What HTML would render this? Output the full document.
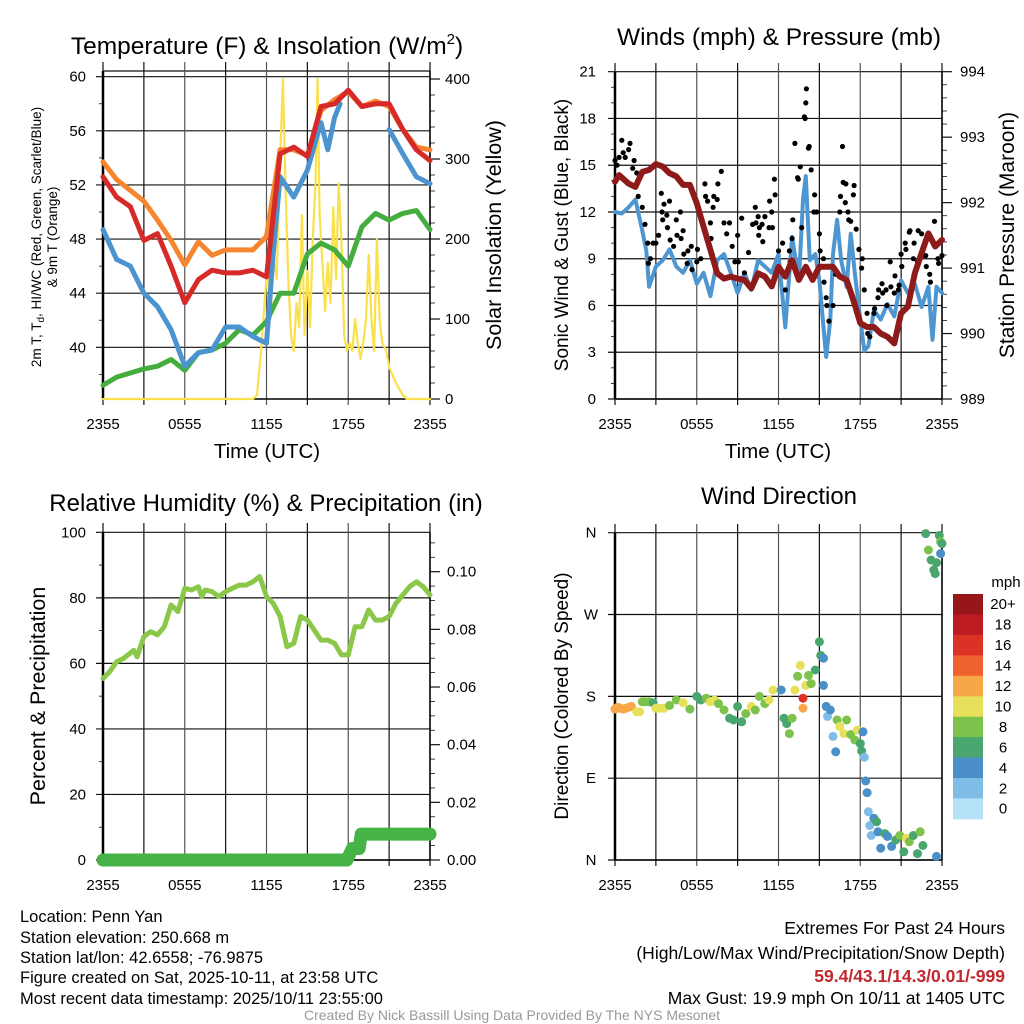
<!DOCTYPE html>
<html><head><meta charset="utf-8"><title>Penn Yan Meteogram</title>
<style>
html,body{margin:0;padding:0;background:#fff;}
svg{display:block;font-family:"Liberation Sans",Arial,sans-serif;}
</style></head>
<body>
<svg id="fig" width="1024" height="1024" viewBox="0 0 1024 1024" xmlns="http://www.w3.org/2000/svg">
<rect width="1024" height="1024" fill="#fff"/>
<g id="p1"></g>
<g id="p2"></g>
<g id="p3"></g>
<g id="p4"></g>

<text x="267" y="54" font-size="24.5" text-anchor="middle">Temperature (F) &amp; Insolation (W/m<tspan dy="-10" font-size="15">2</tspan><tspan dy="10">)</tspan></text>
<text x="779" y="45" font-size="24.5" text-anchor="middle">Winds (mph) &amp; Pressure (mb)</text>
<text x="266" y="511" font-size="24" text-anchor="middle">Relative Humidity (%) &amp; Precipitation (in)</text>
<text x="779" y="504" font-size="24" text-anchor="middle">Wind Direction</text>

<g font-size="16.5">
<text x="20" y="922">Location: Penn Yan</text>
<text x="20" y="943">Station elevation: 250.668 m</text>
<text x="20" y="963">Station lat/lon: 42.6558; -76.9875</text>
<text x="20" y="983">Figure created on Sat, 2025-10-11, at 23:58 UTC</text>
<text x="20" y="1004">Most recent data timestamp: 2025/10/11 23:55:00</text>
</g>
<g font-size="17.5" text-anchor="end">
<text x="1005" y="934">Extremes For Past 24 Hours</text>
<text x="1005" y="959">(High/Low/Max Wind/Precipitation/Snow Depth)</text>
<text x="1005" y="982" fill="#c1272d" font-weight="bold">59.4/43.1/14.3/0.01/-999</text>
<text x="1005" y="1004">Max Gust: 19.9 mph On 10/11 at 1405 UTC</text>
</g>
<text x="512" y="1020" font-size="14" fill="#999" text-anchor="middle">Created By Nick Bassill Using Data Provided By The NYS Mesonet</text>
</svg>

<script>
// ---------- data ----------
const xTickLabels = ["2355","0555","1155","1755","2355"];
const hours = [0,1,2,3,4,5,6,7,8,9,10,11,12,13,14,15,16,17,18,19,20,21,22,23,24];
const temp9m = [53.7,52.4,51.6,50.8,49.4,47.9,46.1,47.8,46.8,47.2,47.2,47.2,48.2,54.6,54.6,54.2,57.5,58.3,58.9,57.8,58.2,57.8,56.1,54.8,54.6];
const temp2m = [52.6,51.1,50.4,47.9,48.4,46.0,43.3,45.0,45.7,45.5,45.5,45.7,45.2,54.3,54.8,54.1,57.8,58.0,59.0,57.8,58.0,58.0,56.1,54.6,53.8];
const dewpoint = [37.2,37.8,38.1,38.4,38.6,39.1,38.3,39.6,39.8,40.3,41.3,40.9,41.9,44.0,44.0,46.9,47.7,47.2,46.0,48.9,49.9,49.4,49.9,50.1,48.7];
const hiwcTimes = [0,1,2,3,4,5,6,7,8,9,10,11,12,12.5,13,14,15,16,16.5,17,17.4,null,21,22,23,24];
const hiwc = [48.7,46.5,46.0,44.0,43.0,41.3,38.6,39.6,39.8,41.5,41.5,40.8,40.3,47,52.6,51.1,53.1,56.6,54.6,57.0,58.0,null,56.1,54.3,52.6,52.1];
const solarTimes = [0,11,11.3,11.6,11.9,12.1,12.3,12.5,12.75,13,13.2,13.4,13.6,13.8,14,14.2,14.4,14.6,14.8,15,15.2,15.4,15.6,15.75,15.9,16.1,16.3,16.5,16.7,16.9,17.1,17.3,17.5,17.7,17.9,18.1,18.3,18.5,18.7,18.9,19.1,19.3,19.5,19.7,19.9,20.1,20.3,20.5,20.8,21,21.5,22,22.3,24];
const solar = [0,0,5,60,130,170,100,180,150,300,400,260,150,80,60,120,90,230,80,160,90,200,270,400,230,170,110,170,120,240,150,270,200,80,60,70,60,100,70,50,70,100,180,100,60,200,100,70,60,40,20,5,0,0];

const windTimes = [0,0.5,1,1.5,2,2.3,2.5,3,3.5,4,4.5,5,5.5,6,6.5,7,7.5,8,8.5,9,9.5,10,10.5,11,11.5,12,12.5,13,13.5,13.8,14,14.3,14.7,15,15.3,15.5,15.8,16,16.3,16.6,17,17.3,17.6,18,18.3,18.6,19,19.5,20,20.5,21,21.5,22,22.5,23,23.3,23.6,24];
const windSpeed = [12.0,11.9,12.3,12.8,10.8,9.5,7.2,8.5,8.9,9.6,8.5,8.1,8.9,7.4,8.1,6.6,8.9,9.3,8.1,6.8,8.1,7.0,8.9,8.5,8.1,9.3,4.6,10.4,7.6,12.8,14.3,8.9,9.3,7.6,4.6,2.7,5.1,9.3,11.5,8.9,7.2,10.6,8.1,5.1,3.1,3.4,5.7,5.1,6.1,5.3,7.6,6.8,7.4,5.9,7.2,3.8,7.2,6.8];
const pressTimes = [0,0.3,1,1.5,2,2.5,3,3.5,4,4.5,5,5.5,6,6.5,7,7.5,8,8.5,9,9.5,10,10.5,11,11.5,12,12.5,13,13.5,14,14.5,15,15.5,16,16.5,17,17.5,18,18.5,19,19.5,20,20.5,21,21.5,22,22.5,23,23.5,24];
const pressure = [992.32,992.42,992.29,992.24,992.47,992.5,992.59,992.55,992.45,992.40,992.27,992.27,991.99,991.63,991.28,990.92,990.84,990.87,990.84,990.82,990.69,990.92,990.87,990.72,991.02,990.87,991.12,990.82,991.02,990.82,991.02,991.02,991.02,990.87,990.82,990.51,990.16,990.1,990.1,990.0,989.95,989.85,990.31,990.41,990.92,991.23,991.53,991.33,991.43];
const gustTimes = [0,0.15,0.3,0.5,0.6,0.75,1,1.1,1.3,1.4,1.6,1.7,2,2.2,2.4,2.45,2.6,2.8,3,3.2,3.4,3.45,3.5,3.6,3.8,3.85,4,4.05,4.3,4.5,4.55,4.8,4.85,5,5.05,5.3,5.35,5.6,5.65,6,6.05,6.3,6.6,6.65,6.8,7,7.05,7.2,7.25,7.5,7.55,7.8,8,8.2,8.4,8.6,8.8,9,9.05,9.3,9.5,9.8,10.1,10.3,10.35,10.5,10.55,10.6,10.8,10.85,11,11.3,11.35,11.5,11.55,11.7,11.75,12,12.05,12.3,12.5,12.8,12.85,13,13.05,13.2,13.4,13.45,13.6,13.7,13.9,13.95,14,14.05,14.2,14.25,14.4,14.6,14.65,14.8,15,15.05,15.3,15.35,15.5,15.55,15.7,16,16.2,16.5,16.55,16.7,16.75,16.9,16.95,17.1,17.15,17.3,17.5,17.55,17.7,17.9,18.1,18.15,18.3,18.5,18.55,18.7,19,19.05,19.3,19.35,19.6,19.65,19.9,19.95,20.2,20.25,20.5,20.55,20.8,20.85,21,21.05,21.3,21.35,21.6,21.65,21.9,21.95,22.2,22.25,22.5,22.55,22.8,22.85,23.1,23.15,23.4,23.45,23.7,23.75,24];
const gustSpeed = [15.3,15.0,15.5,16.6,15.8,15.5,16.0,16.4,14.8,15.3,14.5,13.0,12.3,11.2,10.0,8.7,9.0,10.0,10.0,10.5,13.2,12.0,11.5,12.5,11.8,11.0,12.7,10.2,9.8,11.5,10.5,12.0,10.3,10.8,9.3,8.7,9.5,9.8,8.3,8.8,9.6,9.0,13.8,13.0,12.7,11.3,10.3,12.3,13.0,12.8,13.8,14.6,11.3,10.6,11.3,9.8,8.8,10.5,8.8,11.6,8.1,9.4,11.2,12.3,11.3,11.7,10.5,11.0,11.2,10.1,11.7,11.0,12.7,12.0,11.0,14.1,13.1,9.5,8.2,10.0,7.0,9.5,8.8,10.3,11.5,16.4,14.2,14.1,14.9,11.0,18.1,18.0,19.0,19.9,16.1,16.2,14.7,12.0,13.1,12.0,10.6,9.5,9.0,7.5,6.5,6.0,5.0,6.0,8.0,12.0,13.0,16.2,13.9,12.6,13.8,12.0,11.5,11.4,13.1,13.7,10.9,9.6,8.4,9.0,7.0,5.5,4.2,4.0,5.5,5.8,6.5,7.0,7.4,6.8,7.0,6.0,8.8,7.2,6.8,7.9,7.0,7.3,9.3,8.5,10.0,9.6,10.7,10.8,9.0,10.0,8.8,10.8,10.6,9.2,9.2,8.5,8.0,7.5,10.0,11.4,9.0,8.7,9.2];

const rhTimes = [0,0.5,1,1.5,2.25,2.5,3,3.5,4,4.5,5,5.5,6,6.5,7,7.25,7.5,8,8.5,9,9.5,10,10.5,11,11.5,12,12.5,13,13.5,14,14.5,15,15.5,16,16.5,17,17.5,18,18.5,19,19.5,20,20.5,21,21.5,22,22.5,23,23.5,24];
const relHumidity = [55.4,57.5,60.5,61.5,64,62,68.2,69.7,68.7,71.2,77.8,75.8,82.9,82.4,83.4,80.4,82.4,81.9,80.4,81.9,82.9,83.9,83.9,84.9,86.5,80.4,78.3,74.3,65.1,66.1,74.3,73.2,70.2,67.1,67.1,66.1,62.6,62.6,71.2,71.2,76.3,73.2,73.2,74.3,78.3,80.9,83.4,84.9,83.4,80.9];
const precipTimes = [0,17.9,18.1,18.3,18.8,18.95,24];
const precip = [0,0,0.002,0.004,0.004,0.009,0.009];

const dirTimes = [0,0.2,0.4,0.6,0.8,1.0,1.2,1.6,1.8,2,2.2,2.5,2.8,3,3.3,3.6,4,4.5,5,5.5,6,6.3,6.7,7,7.3,7.6,8,8.4,8.7,9,9.3,9.6,10,10.3,10.6,11,11.3,11.6,12.2,12.4,12.6,12.8,13.0,13.2,13.4,13.6,13.8,13.8,14.0,14.2,14.4,14.7,15.0,15.1,15.3,15.3,15.5,15.6,15.8,16,16.2,16.3,16.5,16.8,17.0,17.3,17.6,17.8,18.0,18.1,18.2,18.3,18.4,18.5,18.6,18.7,18.8,19.0,19.2,19.3,19.5,19.8,20,20.3,20.6,20.9,21.2,21.4,21.6,21.9,22.2,22.4,22.6,22.8,23.0,23.2,23.4,23.5,23.6,23.8,23.9,23.9,24,23.6];
const dirDegrees = [166,168,167,166,167,168,169,163,163,174,174,174,173,167,167,167,170,176,173,166,180,176,178,174,176,172,165,156,154,169,152,161,169,165,180,172,176,187,187,156,150,139,156,187,202,214,178,167,192,203,194,209,240,225,222,192,169,158,165,136,119,154,147,139,154,138,132,143,128,120,141,113,87,74,53,38,27,46,42,31,13,29,26,15,22,27,9,24,20,27,7,31,16,359,341,330,319,315,327,357,350,337,348,4];
const dirSpeed = [12,12,12,12,12,12,12,10,10,8,8,8,6,10,10,10,8,8,10,8,6,6,8,10,10,8,8,6,6,6,6,8,10,8,8,8,10,10,4,6,6,8,8,10,8,10,16,12,10,8,8,6,6,6,4,4,4,2,4,2,4,8,10,10,8,8,8,10,6,6,4,2,4,4,2,2,2,4,6,4,4,6,4,4,6,8,6,10,8,6,6,8,6,6,8,6,6,6,6,6,8,4,6,4];
const speedColors = ["#b5e2f8","#80bde6","#4a8fc7","#4aa66f","#7dc24b","#e6e05a","#f7a748","#ef6230","#dc3127","#bd1c22","#961619"];
const speedLabels = ["0","2","4","6","8","10","12","14","16","18","20+"];

// ---------- helpers ----------
const NS = "http://www.w3.org/2000/svg";
function mk(parent, tag, attrs, text){
  const e = document.createElementNS(NS, tag);
  for (const k in attrs) e.setAttribute(k, attrs[k]);
  if (text !== undefined) e.textContent = text;
  parent.appendChild(e);
  return e;
}
function lin(d0,d1,r0,r1){ return v => r0 + (v-d0)*(r1-r0)/(d1-d0); }
function pathFrom(ts, vs, sx, sy){
  let d = "", pen = false;
  for (let i=0;i<ts.length;i++){
    if (ts[i]===null || vs[i]===null){ pen=false; continue; }
    d += (pen?"L":"M") + sx(ts[i]).toFixed(1) + " " + sy(vs[i]).toFixed(1);
    pen = true;
  }
  return d;
}
function drawLine(g, ts, vs, sx, sy, color, w, name){
  const p = mk(g,"path",{d:pathFrom(ts,vs,sx,sy),fill:"none",stroke:color,"stroke-width":w,"stroke-linejoin":"round","stroke-linecap":"round"});
  
  
  return p;
}
function frame(g, L, R, T, B){
  const sx = lin(0,24,L,R);
  for (let h=0; h<=24; h+=3){
    const x = sx(h);
    const l = mk(g,"line",{x1:x,x2:x,y1:T-9,y2:B+6,stroke:(h%6===0&&h>0&&h<24)?"#555":"#111","stroke-width":1.2});
    
    
  }
  xTickLabels.forEach((lab,i)=>{
    const t = mk(g,"text",{x:sx(i*6),y:B+30,"font-size":15,"text-anchor":"middle"},lab);
    
    
  });
  const ax = mk(g,"line",{x1:L,x2:L,y1:T,y2:B,stroke:"#000","stroke-width":2.5});
  
  
  const ax2 = mk(g,"line",{x1:R,x2:R,y1:T,y2:B,stroke:"#000","stroke-width":1.5});
  
  
  const bt = mk(g,"line",{x1:L,x2:R,y1:B,y2:B,stroke:"#000","stroke-width":1.5});
  
  
  return sx;
}
function hgrid(g, L, R, y, major){
  const l = mk(g,"line",{x1:major?L-7:L-4,x2:major?R:L,y1:y,y2:y,stroke:"#111","stroke-width":major?1.2:0.8});
  
  
}
function rtick(g, R, y, major){
  const l = mk(g,"line",{x1:R,x2:R+(major?10:5),y1:y,y2:y,stroke:"#111","stroke-width":major?1.2:0.8});
  
  
}
function label(g, x, y, txt, anchor, size, name, rot){
  const t = mk(g,"text",{x:x,y:y,"font-size":size,"text-anchor":anchor},txt);
  if (rot) t.setAttribute("transform","rotate(-90 "+x+" "+y+")");
  
  
  return t;
}

// ---------- panel 1: temperature ----------
(function(){
  const g = document.getElementById("p1");
  const L=103,R=430,T=71,B=399;
  const sy = lin(40,60,347.3,76.7);
  const sr = lin(0,400,399,79);
  for (let v=38; v<=60; v+=2){ hgrid(g,L,R,sy(v), v%4===0); }
  mk(g,"line",{x1:L,x2:R,y1:T,y2:T,stroke:"#111","stroke-width":1.2});
  for (let v=0; v<=400; v+=20) rtick(g,R,sr(v),v%100===0);
  const sx = frame(g,L,R,T,B);
  for (let v=40; v<=60; v+=4) label(g,86,sy(v)+5,String(v),"end",15,"left-tick-label");
  for (let v=0; v<=400; v+=100) label(g,445,sr(v)+5,String(v),"start",15,"right-tick-label");
  drawLine(g,solarTimes,solar,sx,sr,"#f9e04c",2.2,"solar-insolation-line");
  drawLine(g,hours,dewpoint,sx,sy,"#44ad3d",5,"dewpoint-line");
  drawLine(g,hours,temp9m,sx,sy,"#f5862f",5,"temp-9m-line");
  drawLine(g,hiwcTimes,hiwc,sx,sy,"#4b94cf",5,"heat-index-windchill-line");
  drawLine(g,hours,temp2m,sx,sy,"#d62a28",5,"temp-2m-line");
  label(g,267,458,"Time (UTC)","middle",20.5,"x-axis-title");
  label(g,501,235,"Solar Insolation (Yellow)","middle",21.5,"right-axis-title",true);
  const t = mk(g,"text",{x:41,y:237,"font-size":13.5,"text-anchor":"middle",transform:"rotate(-90 41 237)"});
  
  
  t.innerHTML = '2m T, T<tspan font-size="10" dy="3">d</tspan><tspan dy="-3">, HI/WC (Red, Green, Scarlet/Blue)</tspan>';
  label(g,57,237,"& 9m T (Orange)","middle",13.5,"left-axis-title-line2",true);
})();

// ---------- panel 2: winds ----------
(function(){
  const g = document.getElementById("p2");
  const L=615,R=942,T=72,B=399;
  const sy = lin(0,21,399,71.7);
  const sp = lin(989,994,399,71.7);
  for (let v=0; v<=21; v+=1){ hgrid(g,L,R,sy(v), v%3===0); }
  for (let v=989; v<=994.001; v+=0.2) rtick(g,R,sp(v),Math.abs(v-Math.round(v))<0.01);
  const sx = frame(g,L,R,T,B);
  for (let v=0; v<=21; v+=3) label(g,596,sy(v)+5,String(v),"end",15,"left-tick-label");
  for (let v=989; v<=994; v+=1) label(g,960,sp(v)+5,String(v),"start",15,"right-tick-label");
  drawLine(g,windTimes,windSpeed,sx,sy,"#4d96d1",4,"sonic-wind-line");
  const gg = mk(g,"g",{fill:"#000"});
  
  
  gustTimes.forEach((t,i)=>{
    const c = mk(gg,"circle",{cx:sx(t).toFixed(1),cy:sy(gustSpeed[i]).toFixed(1),r:2.6});
    
    
  });
  drawLine(g,pressTimes,pressure,sx,sp,"#8e1a1a",6,"pressure-line");
  label(g,778,458,"Time (UTC)","middle",20.5,"x-axis-title");
  label(g,568,235,"Sonic Wind & Gust (Blue, Black)","middle",19,"left-axis-title",true);
  label(g,1014,235,"Station Pressure (Maroon)","middle",21,"right-axis-title",true);
})();

// ---------- panel 3: humidity ----------
(function(){
  const g = document.getElementById("p3");
  const L=103,R=430,T=532,B=860;
  const sy = lin(0,100,860,532.3);
  const sr = lin(0,0.10,860,571.7);
  for (let v=0; v<=100; v+=10){ hgrid(g,L,R,sy(v), v%20===0); }
  for (let v=0; v<=113; v+=5) rtick(g,R,sr(v/1000),v%20===0);
  const sx = frame(g,L,R,T,B);
  for (let v=0; v<=100; v+=20) label(g,86,sy(v)+5,String(v),"end",15,"left-tick-label");
  for (let v=0; v<=10; v+=2) label(g,447,sr(v/100)+5,(v/100).toFixed(2),"start",15,"right-tick-label");
  drawLine(g,rhTimes,relHumidity,sx,sy,"#8bc84a",5,"relative-humidity-line");
  drawLine(g,precipTimes,precip,sx,sr,"#45b345",13,"precipitation-line");
  label(g,45,696,"Percent & Precipitation","middle",21.5,"left-axis-title",true);
})();

// ---------- panel 4: wind direction ----------
(function(){
  const g = document.getElementById("p4");
  const L=615,R=942,T=533,B=860;
  const sy = lin(0,360,860,532.7);
  const dirLabels = ["N","E","S","W","N"];
  dirLabels.forEach((lab,i)=>{ hgrid(g,L,R,sy(i*90),true); label(g,591,sy(i*90)+5,lab,"middle",15,"direction-tick-label"); });
  const sx = frame(g,L,R,T,B);
  const dg = mk(g,"g",{});
  
  
  dirTimes.forEach((t,i)=>{
    const bin = Math.min(10, Math.floor(dirSpeed[i]/2));
    const c = mk(dg,"circle",{cx:sx(t).toFixed(1),cy:sy(dirDegrees[i]).toFixed(1),r:4.5,fill:speedColors[bin]});
    
    
  });
  label(g,568,696,"Direction (Colored By Speed)","middle",19,"left-axis-title",true);
  const cb = mk(g,"g",{});
  
  
  const cbTop=594, cbH=20.45;
  for (let i=0;i<speedColors.length;i++){
    const k = speedColors.length-1-i;
    const r = mk(cb,"rect",{x:953,y:(cbTop+i*cbH).toFixed(1),width:30,height:cbH+0.4,fill:speedColors[k]});
    
    
    label(cb,1003,cbTop+i*cbH+cbH/2+5,speedLabels[k],"middle",15,"colorbar-label");
  }
  label(cb,1006,587,"mph","middle",15,"colorbar-title");
})();
</script>
</body></html>
